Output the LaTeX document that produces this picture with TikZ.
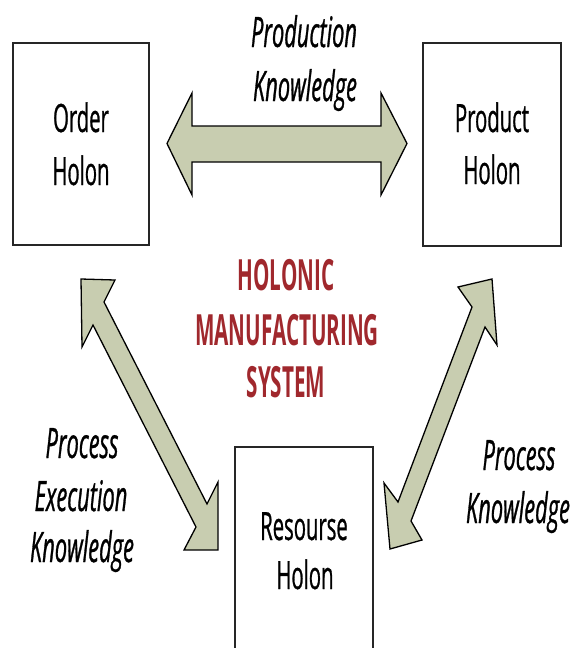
\documentclass[tikz,border=0pt]{standalone}
\usepackage{fontspec}
\setmainfont{Open Sans}
\newfontfamily\hmsfont[FakeStretch=0.52,FakeBold=0.7]{Open Sans}
\newfontfamily\hmsheadfont[FakeStretch=0.48]{Open Sans}
\definecolor{arrowfill}{RGB}{200,205,176}
\definecolor{hmsred}{RGB}{160,40,45}
\begin{document}
\begin{tikzpicture}[x=1pt,y=-1pt,
  holonbox/.style={draw=black!85, line width=1.1pt, fill=white, inner sep=0},
  blockarrow/.style={draw=black, line width=1.3pt, fill=arrowfill, line join=miter},
  boxtext/.style={font=\hmsfont\fontsize{39}{47}\selectfont, anchor=base, inner sep=0},
  labtext/.style={font=\hmsfont\itshape\fontsize{42}{50}\selectfont, anchor=base, inner sep=0},
  headtext/.style={font=\hmsheadfont\bfseries\fontsize{43}{50}\selectfont, text=hmsred, anchor=base, inner sep=0}]
\useasboundingbox (0,0) rectangle (575,648);
\clip (0,0) rectangle (575,648);
\fill[white] (0,0) rectangle (575,648);

% holon boxes
\node[holonbox, minimum width=136pt, minimum height=202pt] (order) at (81,144) {};
\node[holonbox, minimum width=138pt, minimum height=203pt] (product) at (492,144.5) {};
\node[holonbox, minimum width=138pt, minimum height=210pt] (resource) at (304,552) {};

% box texts
\node[boxtext] (orderA) at (81,132) {Order};
\node[boxtext] (orderB) at (81,185) {Holon};
\node[boxtext] (productA) at (492,132) {Product};
\node[boxtext] (productB) at (492,184) {Holon};
\node[boxtext] (resourceA) at (304,540) {Resourse};
\node[boxtext] (resourceB) at (305,589) {Holon};

% block arrows
\coordinate (hl) at (167,143.5);
\coordinate (hr) at (407,143.5);
\draw[blockarrow] (hl) -- (192,93) -- (192,126) -- (381,126) -- (381,93) -- (hr)
  -- (381,195) -- (381,162) -- (192,162) -- (192,195) -- cycle;

\coordinate (lt) at (81,279);
\coordinate (lb) at (218,550);
\draw[blockarrow] (lt) -- (115,280) -- (104,302) -- (207,504) -- (218,482) -- (lb)
  -- (184,550) -- (196,527) -- (93,325) -- (82,347) -- cycle;

\coordinate (rt) at (492,279);
\coordinate (rb) at (390,549);
\draw[blockarrow] (rt) -- (497,345) -- (485,327) -- (411,521) -- (422,540) -- (rb)
  -- (384,483) -- (398,502) -- (472,307) -- (458,287) -- cycle;

% heading
\node[headtext] (h1) at (286,290) {HOLONIC};
\node[headtext] (h2) at (287,345) {MANUFACTURING};
\node[headtext] (h3) at (286,397) {SYSTEM};

% labels
\node[labtext] (pk1) at (304,47) {Production};
\node[labtext] (pk2) at (305,101) {Knowledge};
\node[labtext] (pe1) at (82,458) {Process};
\node[labtext] (pe2) at (81,511) {Execution};
\node[labtext] (pe3) at (82,562) {Knowledge};
\node[labtext] (pr1) at (519,470) {Process};
\node[labtext] (pr2) at (518,523) {Knowledge};
\end{tikzpicture}
\end{document}
